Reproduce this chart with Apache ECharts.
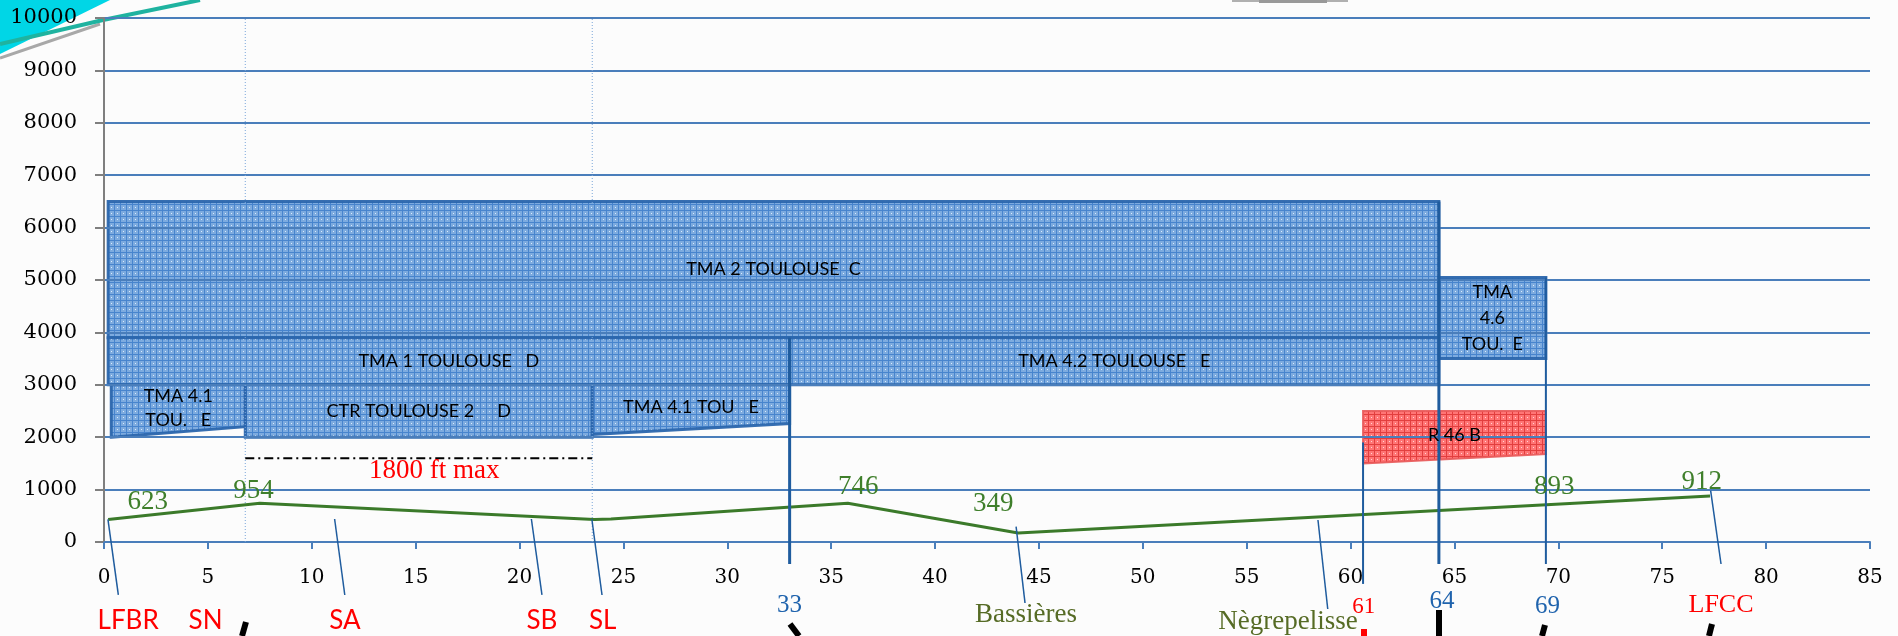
<!DOCTYPE html>
<html>
<head>
<meta charset="utf-8">
<script src="https://cdn.jsdelivr.net/npm/echarts@6/dist/echarts.min.js"></script>
<style>
html,body{margin:0;padding:0;background:#fcfcfc;}
#chart{width:1898px;height:636px;}
</style>
</head>
<body>
<div id="chart"></div>
<script>
// ---------------- DATA ----------------
// Airspace zones (distance in NM on x, altitude in ft on y)
const zoneNames = ['TMA 2 TOULOUSE  C', 'TMA 1 TOULOUSE   D', 'TMA 4.2 TOULOUSE   E', 'TMA 4.1\nTOU.   E', 'CTR TOULOUSE 2     D', 'TMA 4.1 TOU   E', 'TMA\n4.6\nTOU.  E', 'R 46 B'];
const zoneStart = [0.2, 0.2, 33, 0.35, 6.8, 23.5, 64.25, 60.6];
const zoneEnd = [64.25, 33, 64.25, 6.8, 23.5, 33, 69.4, 69.4];
const zoneFloorStart = [3900, 3000, 3000, 2000, 2000, 2050, 3500, 1500];
const zoneFloorEnd = [3900, 3000, 3000, 2200, 2000, 2260, 3500, 1680];
const zoneCeiling = [6500, 3900, 3900, 3000, 3000, 3000, 5050, 2500];
const zoneKind = ['tma', 'tma', 'tma', 'tma', 'tma', 'tma', 'tma', 'restricted'];

// Ground profile
const profileX = [0.2, 7.5, 23.6, 24.4, 35.8, 44, 77.3];
const profileY = [430, 740, 430, 440, 740, 170, 880];

// Elevation labels on profile
const elevLabels = ['623', '954', '746', '349', '893', '912'];
const elevX = [2.1, 7.2, 36.3, 42.8, 69.8, 76.9];
const elevY = [770, 980, 1055, 725, 1055, 1150];

// Places below the axis
const placeNames = ['LFBR', 'SN', 'SA', 'SB', 'SL', '33', 'Bassières', 'Nègrepelisse', '61', '64', '69', 'LFCC'];
const placeX = [1.16, 4.89, 11.6, 21.08, 24.0, 33.0, 44.38, 56.99, 60.63, 64.4, 69.48, 77.83];
const placeY = [-1508, -1508, -1508, -1508, -1508, -1216, -1393, -1521, -1235, -1139, -1235, -1202];
const placeKind = ['point', 'point', 'point', 'point', 'point', 'boundary', 'town', 'town', 'redNum', 'boundary', 'boundary', 'airfield'];

// Leader lines from labels to profile
const leaderX1 = [0.19, 11.1, 20.57, 23.48, 43.9, 58.43, 77.33];
const leaderY1 = [433, 439, 439, 439, 292, 420, 979];
const leaderX2 = [0.69, 11.59, 21.08, 23.97, 44.33, 58.9, 77.83];
const leaderY2 = [-1011, -1011, -1011, -1011, -1164, -1279, -420];

// Boundary verticals
const boundaryX = [33, 60.6, 64.25, 69.4];
const boundaryTop = [3900, 1900, 6500, 5050];
const boundaryBottom = [-420, -800, -420, -420];

// Dotted verticals (CTR limits)
const ctrX = [6.8, 23.5];

// Max altitude limit in CTR
const limitStart = 6.8, limitEnd = 23.5, limitAlt = 1600;
const limitText = '1800 ft max';
const limitTextX = 15.9, limitTextY = 1360;

// ---------------- STYLE ----------------
function makePattern(base, line, dot) {
  const c = document.createElement('canvas');
  c.width = 6; c.height = 6;
  const g = c.getContext('2d');
  g.fillStyle = base; g.fillRect(0, 0, 6, 6);
  g.fillStyle = line; g.fillRect(0, 0, 6, 1); g.fillRect(0, 0, 1, 6);
  g.fillStyle = dot; g.fillRect(3, 3, 1, 1);
  return c;
}
const bluePat = makePattern('#76a7de', '#3e7ecb', '#d8eafc');
const redPat = makePattern('#ff6a6a', '#e02e2e', '#ffd0d0');

const SERIF = '"Liberation Serif", serif';
const SANS = 'Lato, "Liberation Sans", sans-serif';
const placeStyle = {
  point: { font: '26px ' + SANS, fill: '#ff0000' },
  airfield: { font: '26px ' + SERIF, fill: '#ff0000' },
  boundary: { font: '25px ' + SERIF, fill: '#1f63ad' },
  redNum: { font: '23px ' + SERIF, fill: '#ff0000' },
  town: { font: '27px ' + SERIF, fill: '#566b25' }
};

const chart = echarts.init(document.getElementById('chart'));

const option = {
  backgroundColor: '#fcfcfc',
  animation: false,
  grid: { left: 104, right: 28, top: 18, bottom: 94, containLabel: false },
  xAxis: {
    type: 'value', min: 0, max: 85, interval: 5, z: 3,
    axisLine: { show: true, lineStyle: { color: '#4a7ebb', width: 2 } },
    axisTick: { show: true, length: 7, lineStyle: { color: '#4a7ebb', width: 2 } },
    axisLabel: { color: '#000', fontFamily: '"DejaVu Serif", serif', fontSize: 20, margin: 26, formatter: v => String(v) },
    splitLine: { show: false }
  },
  yAxis: {
    type: 'value', min: 0, max: 10000, interval: 1000, z: 3,
    axisLine: { show: true, lineStyle: { color: '#7f7f7f', width: 2 } },
    axisTick: { show: true, length: 9, lineStyle: { color: '#7f7f7f', width: 2 } },
    axisLabel: { color: '#000', fontFamily: '"DejaVu Serif", serif', fontSize: 21, fontWeight: 500, margin: 27, formatter: v => String(v) },
    splitLine: { show: true, lineStyle: { color: '#4a7ebb', width: 2 } }
  },
  graphic: [
    { type: 'polygon', shape: { points: [[0, 0], [110, 0], [0, 54]] }, style: { fill: '#00d6e6' }, z: 0 },
    { type: 'polyline', shape: { points: [[0, 58], [100, 24]] }, style: { stroke: '#a8a8a8', lineWidth: 3 }, z: 0 },
    { type: 'polyline', shape: { points: [[0, 44], [103, 20], [200, 0]] }, style: { stroke: '#1fb3a0', lineWidth: 4 }, z: 0 },
    { type: 'rect', shape: { x: 1232, y: 0, width: 116, height: 2 }, style: { fill: '#b0b0b0' }, z: 10 },
    { type: 'rect', shape: { x: 1259, y: 0, width: 68, height: 3 }, style: { fill: '#999' }, z: 10 },
    { type: 'line', shape: { x1: 246, y1: 622, x2: 242, y2: 636 }, style: { stroke: '#000', lineWidth: 6 }, z: 10 },
    { type: 'line', shape: { x1: 790, y1: 624, x2: 799, y2: 636 }, style: { stroke: '#000', lineWidth: 6 }, z: 10 },
    { type: 'rect', shape: { x: 1361, y: 629, width: 6, height: 7 }, style: { fill: '#ff0000' }, z: 10 },
    { type: 'line', shape: { x1: 1439, y1: 610, x2: 1439, y2: 636 }, style: { stroke: '#000', lineWidth: 6 }, z: 10 },
    { type: 'line', shape: { x1: 1545, y1: 625, x2: 1542, y2: 636 }, style: { stroke: '#000', lineWidth: 6 }, z: 10 },
    { type: 'line', shape: { x1: 1712, y1: 624, x2: 1709, y2: 636 }, style: { stroke: '#000', lineWidth: 6 }, z: 10 }
  ],
  series: [
    // Airspace zones
    {
      type: 'custom', coordinateSystem: 'cartesian2d', z: 1, clip: false,
      data: zoneStart.map((x, i) => [x, zoneCeiling[i]]),
      renderItem(params, api) {
        const i = params.dataIndex;
        const p1 = api.coord([zoneStart[i], zoneFloorStart[i]]);
        const p2 = api.coord([zoneEnd[i], zoneFloorEnd[i]]);
        const p3 = api.coord([zoneEnd[i], zoneCeiling[i]]);
        const p4 = api.coord([zoneStart[i], zoneCeiling[i]]);
        const red = zoneKind[i] === 'restricted';
        return {
          type: 'polygon',
          shape: { points: [p1, p2, p3, p4] },
          style: {
            fill: { image: red ? redPat : bluePat, repeat: 'repeat' },
            stroke: red ? '#e85a5a' : '#2b66ad',
            lineWidth: red ? 2 : 3,
            opacity: red ? 0.92 : 0.95
          }
        };
      }
    },
    // Zone labels
    {
      type: 'custom', coordinateSystem: 'cartesian2d', z: 6, clip: false,
      data: zoneStart.map((x, i) => [x, zoneCeiling[i]]),
      renderItem(params, api) {
        const i = params.dataIndex;
        const p1 = api.coord([zoneStart[i], zoneFloorStart[i]]);
        const p2 = api.coord([zoneEnd[i], zoneFloorEnd[i]]);
        const p3 = api.coord([zoneEnd[i], zoneCeiling[i]]);
        const p4 = api.coord([zoneStart[i], zoneCeiling[i]]);
        const cx = (p1[0] + p2[0]) / 2;
        const cy = (p1[1] + p2[1] + p3[1] + p4[1]) / 4;
        return {
          type: 'text', x: cx, y: cy,
          style: {
            text: zoneNames[i], align: 'center', verticalAlign: 'middle',
            font: '18px ' + SANS, fill: '#000',
            lineHeight: zoneNames[i].split('\n').length > 2 ? 26 : 24
          }
        };
      }
    },
    // Dotted CTR verticals
    {
      type: 'custom', coordinateSystem: 'cartesian2d', z: 4, clip: false,
      data: ctrX.map(x => [x, 0]),
      renderItem(params, api) {
        const x = ctrX[params.dataIndex];
        const a = api.coord([x, 0]), b = api.coord([x, 10000]);
        return { type: 'line', shape: { x1: a[0], y1: a[1], x2: b[0], y2: b[1] },
          style: { stroke: '#7aa6da', lineWidth: 1, lineDash: [1, 2] } };
      }
    },
    // Boundary verticals
    {
      type: 'custom', coordinateSystem: 'cartesian2d', z: 5, clip: false,
      data: boundaryX.map((x, i) => [x, boundaryTop[i]]),
      renderItem(params, api) {
        const i = params.dataIndex;
        const a = api.coord([boundaryX[i], boundaryTop[i]]), b = api.coord([boundaryX[i], boundaryBottom[i]]);
        return { type: 'line', shape: { x1: a[0], y1: a[1], x2: b[0], y2: b[1] },
          style: { stroke: '#1f5c9e', lineWidth: (i === 0 || i === 2) ? 3 : 2 } };
      }
    },
    // Leader lines
    {
      type: 'custom', coordinateSystem: 'cartesian2d', z: 5, clip: false,
      data: leaderX1.map((x, i) => [x, leaderY1[i]]),
      renderItem(params, api) {
        const i = params.dataIndex;
        const a = api.coord([leaderX1[i], leaderY1[i]]), b = api.coord([leaderX2[i], leaderY2[i]]);
        return { type: 'line', shape: { x1: a[0], y1: a[1], x2: b[0], y2: b[1] },
          style: { stroke: '#1f5c9e', lineWidth: 1.5 } };
      }
    },
    // Altitude limit dash-dot
    {
      type: 'custom', coordinateSystem: 'cartesian2d', z: 5, clip: false,
      data: [[limitStart, limitAlt]],
      renderItem(params, api) {
        const a = api.coord([limitStart, limitAlt]), b = api.coord([limitEnd, limitAlt]);
        const t = api.coord([limitTextX, limitTextY]);
        return { type: 'group', children: [
          { type: 'line', shape: { x1: a[0], y1: a[1], x2: b[0], y2: b[1] },
            style: { stroke: '#000', lineWidth: 2, lineDash: [9, 4, 2, 4] } },
          { type: 'text', x: t[0], y: t[1], style: { text: limitText, align: 'center', verticalAlign: 'middle',
            font: '27px ' + SERIF, fill: '#ff0000' } }
        ] };
      }
    },
    // Ground profile
    {
      type: 'line', z: 4, symbol: 'none', clip: false,
      data: profileX.map((x, i) => [x, profileY[i]]),
      lineStyle: { color: '#3b7a2a', width: 3 }
    },
    // Elevation labels
    {
      type: 'custom', coordinateSystem: 'cartesian2d', z: 6, clip: false,
      data: elevX.map((x, i) => [x, elevY[i]]),
      renderItem(params, api) {
        const i = params.dataIndex;
        const p = api.coord([elevX[i], elevY[i]]);
        return { type: 'text', x: p[0], y: p[1], style: { text: elevLabels[i], align: 'center', verticalAlign: 'middle',
          font: '27px ' + SERIF, fill: '#3f7f2b' } };
      }
    },
    // Place labels
    {
      type: 'custom', coordinateSystem: 'cartesian2d', z: 6, clip: false,
      data: placeX.map((x, i) => [x, placeY[i]]),
      renderItem(params, api) {
        const i = params.dataIndex;
        const p = api.coord([placeX[i], placeY[i]]);
        const s = placeStyle[placeKind[i]];
        return { type: 'text', x: p[0], y: p[1], style: { text: placeNames[i], align: 'center', verticalAlign: 'middle',
          font: s.font, fill: s.fill } };
      }
    }
  ]
};
chart.setOption(option);
</script>
</body>
</html>
